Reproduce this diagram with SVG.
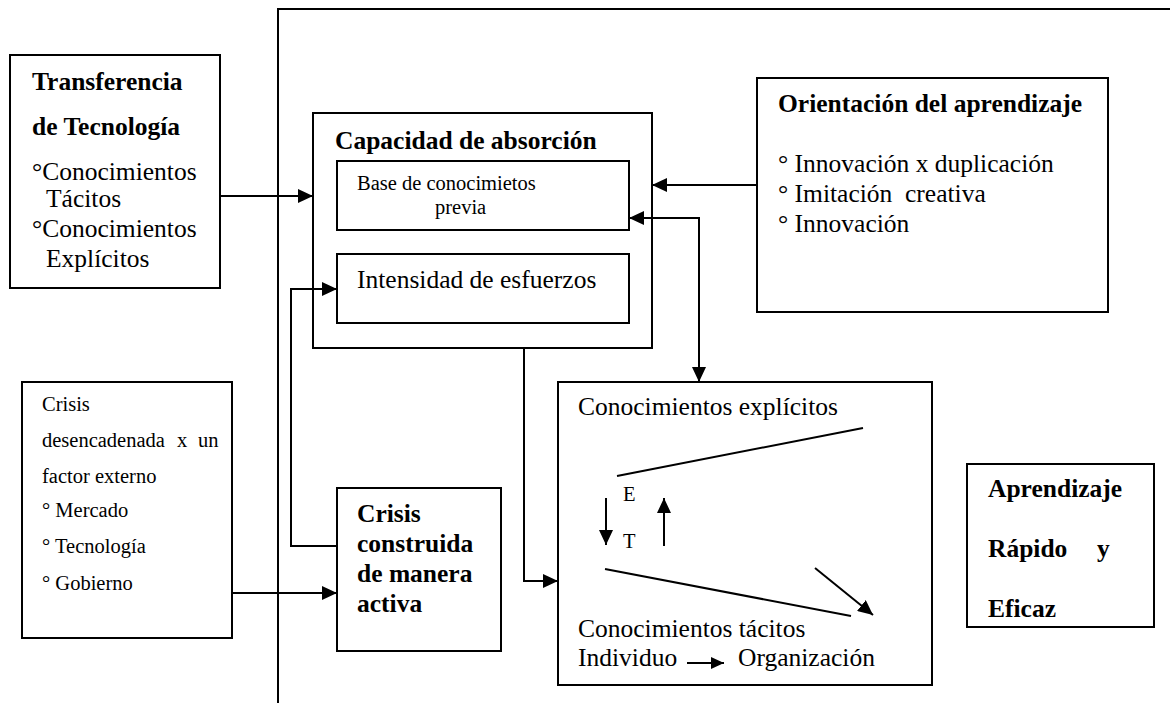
<svg xmlns="http://www.w3.org/2000/svg" width="1170" height="703" viewBox="0 0 1170 703">
<defs>
<style>
.box{fill:#fff;stroke:#000;stroke-width:2}
.ln{fill:none;stroke:#000;stroke-width:2}
text{font-family:"Liberation Serif","Times New Roman",serif;fill:#000}
.b{font-weight:bold;font-size:25.5px}
.r{font-size:25.5px}
.s{font-size:20.5px}
</style>
<marker id="ah" markerUnits="userSpaceOnUse" markerWidth="16" markerHeight="14" viewBox="0 0 16 14" refX="15" refY="7" orient="auto-start-reverse">
<path d="M0,0 L15,7 L0,14 Z" fill="#000"/>
</marker>
<marker id="ahs" markerUnits="userSpaceOnUse" markerWidth="14" markerHeight="12" viewBox="0 0 14 12" refX="13" refY="6" orient="auto">
<path d="M0,0 L13,6 L0,12 Z" fill="#000"/>
</marker>
</defs>
<rect width="1170" height="703" fill="#fff"/>

<g id="frame">
<polyline class="ln" points="278,703 278,9 1170,9"/>
</g>

<g id="transferencia">
<rect class="box" x="10" y="55" width="210" height="233"/>
<text class="b" x="32" y="90">Transferencia</text>
<text class="b" x="32" y="135">de Tecnología</text>
<text class="r" x="32" y="180">°Conocimientos</text>
<text class="r" x="46" y="207">Tácitos</text>
<text class="r" x="32" y="237">°Conocimientos</text>
<text class="r" x="46" y="267">Explícitos</text>
</g>

<g id="capacidad">
<rect class="box" x="313" y="113" width="339" height="235"/>
<text class="b" x="335" y="149">Capacidad de absorción</text>
</g>
<g id="base">
<rect class="box" x="337" y="161" width="292" height="69"/>
<text class="s" x="357" y="190">Base de conocimietos</text>
<text class="s" x="435" y="214">previa</text>
</g>
<g id="intensidad">
<rect class="box" x="337" y="254" width="292" height="69"/>
<text class="r" x="357" y="288">Intensidad de esfuerzos</text>
</g>

<g id="orientacion">
<rect class="box" x="757" y="78" width="351" height="234"/>
<text class="b" x="778" y="112">Orientación del aprendizaje</text>
<text class="r" x="778" y="172">° Innovación x duplicación</text>
<text class="r" x="778" y="202" xml:space="preserve">° Imitación  creativa</text>
<text class="r" x="778" y="232">° Innovación</text>
</g>

<g id="crisis-externa">
<rect class="box" x="22" y="382" width="210" height="256"/>
<text class="s" x="42" y="411">Crisis</text>
<text class="s" y="447"><tspan x="42">desencadenada</tspan><tspan x="177">x</tspan><tspan x="198">un</tspan></text>
<text class="s" x="42" y="483">factor externo</text>
<text class="s" x="42" y="517">° Mercado</text>
<text class="s" x="42" y="553">° Tecnología</text>
<text class="s" x="42" y="590">° Gobierno</text>
</g>

<g id="crisis-construida">
<rect class="box" x="337" y="488" width="164" height="163"/>
<text class="b" x="357" y="522">Crisis</text>
<text class="b" x="357" y="552">construida</text>
<text class="b" x="357" y="582">de manera</text>
<text class="b" x="357" y="612">activa</text>
</g>

<g id="conocimientos">
<rect class="box" x="558" y="382" width="374" height="303"/>
<text class="r" x="578" y="415">Conocimientos explícitos</text>
<line class="ln" x1="617" y1="476" x2="863" y2="428"/>
<text class="s" x="623" y="501">E</text>
<text class="s" x="623" y="548">T</text>
<line class="ln" x1="605" y1="569" x2="851" y2="616"/>
<text class="r" x="578" y="637">Conocimientos tácitos</text>
<text class="r" x="578" y="666">Individuo</text>
<text class="r" x="738" y="666">Organización</text>
</g>

<g id="aprendizaje">
<rect class="box" x="967" y="464" width="187" height="163"/>
<text class="b" x="988" y="497">Aprendizaje</text>
<text class="b" x="988" y="557">Rápido</text>
<text class="b" x="1097" y="557">y</text>
<text class="b" x="988" y="617">Eficaz</text>
</g>

<g id="connectors">
<line class="ln" x1="220" y1="196" x2="313" y2="196" marker-end="url(#ah)"/>
<line class="ln" x1="757" y1="185" x2="652" y2="185" marker-end="url(#ah)"/>
<polyline class="ln" points="629,218 699,218 699,382" marker-start="url(#ah)" marker-end="url(#ah)"/>
<polyline class="ln" points="524,348 524,581 558,581" marker-end="url(#ah)"/>
<line class="ln" x1="232" y1="593" x2="337" y2="593" marker-end="url(#ah)"/>
<polyline class="ln" points="337,546 291,546 291,289 337,289" marker-end="url(#ah)"/>
<line class="ln" x1="606" y1="498" x2="606" y2="545" marker-end="url(#ah)"/>
<line class="ln" x1="664" y1="546" x2="664" y2="498" marker-end="url(#ah)"/>
<line class="ln" x1="815" y1="568" x2="873" y2="615" marker-end="url(#ah)"/>
<line class="ln" x1="687" y1="663" x2="724" y2="663" marker-end="url(#ahs)"/>
</g>
</svg>
